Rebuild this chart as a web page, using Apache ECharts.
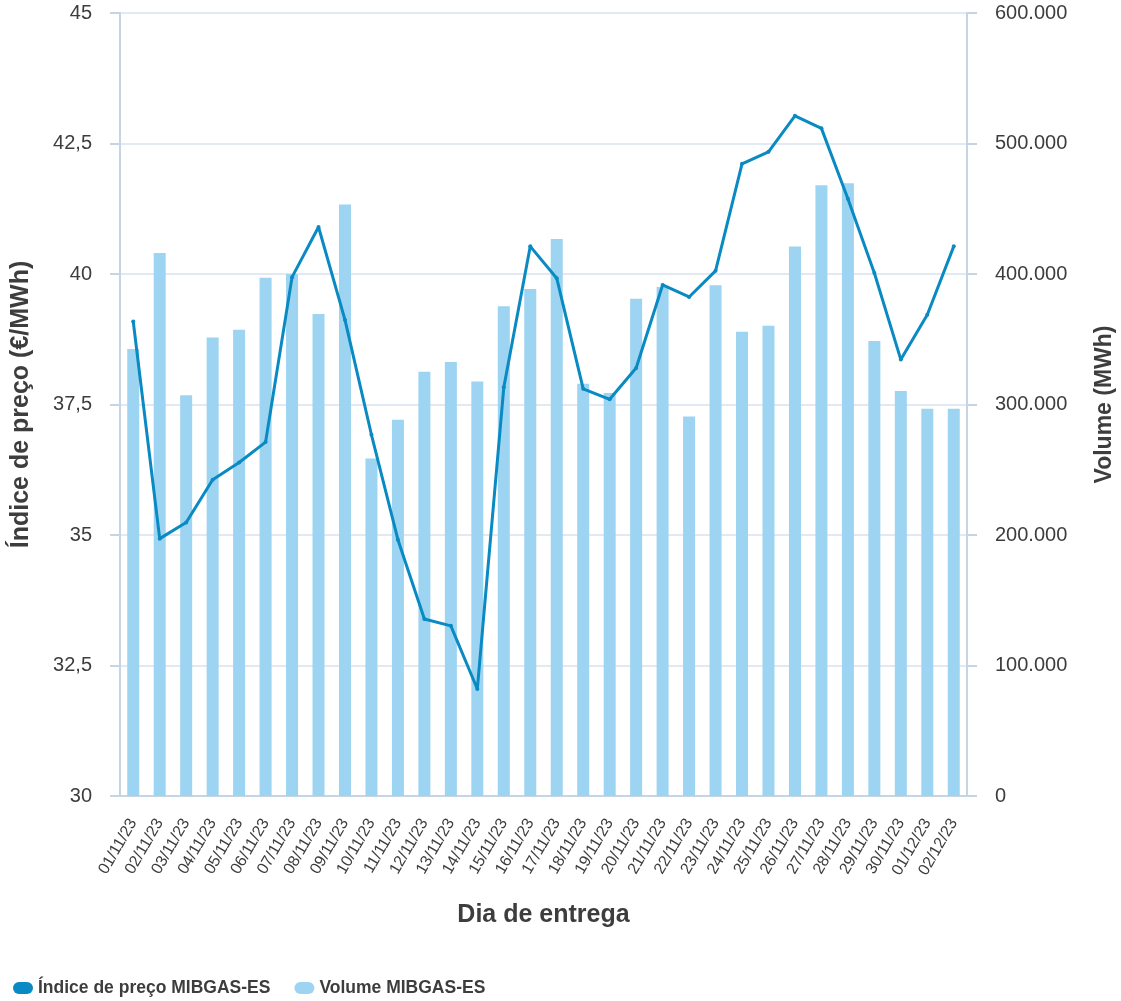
<!DOCTYPE html>
<html>
<head>
<meta charset="utf-8">
<script src="https://cdn.jsdelivr.net/npm/echarts@6/dist/echarts.min.js"></script>
<style>
  html, body { margin: 0; padding: 0; background: #fff; }
  #chart { width: 1121px; height: 1001px; }
</style>
</head>
<body>
<div id="chart"></div>
<script>
// dias de entrega
const categories = [
  '01/11/23', '02/11/23', '03/11/23', '04/11/23', '05/11/23', '06/11/23', '07/11/23', '08/11/23',
  '09/11/23', '10/11/23', '11/11/23', '12/11/23', '13/11/23', '14/11/23', '15/11/23', '16/11/23',
  '17/11/23', '18/11/23', '19/11/23', '20/11/23', '21/11/23', '22/11/23', '23/11/23', '24/11/23',
  '25/11/23', '26/11/23', '27/11/23', '28/11/23', '29/11/23', '30/11/23', '01/12/23', '02/12/23'
]

// Índice de preço MIBGAS-ES (€/MWh)
const priceIndex = [
  39.09, 34.93, 35.24, 36.06, 36.39, 36.78, 39.94, 40.90,
  39.12, 36.92, 34.91, 33.39, 33.26, 32.05, 37.83, 40.53,
  39.92, 37.80, 37.60, 38.20, 39.79, 39.56, 40.06, 42.11,
  42.34, 43.03, 42.79, 41.44, 40.02, 38.36, 39.22, 40.53
]

// Volume MIBGAS-ES (MWh)
const volume = [
  342500, 416100, 307000, 351400, 357300, 397200, 400000, 369400,
  453200, 258700, 288300, 325100, 332600, 317700, 375200, 388500,
  426900, 315900, 308800, 381100, 390100, 290900, 391300, 355800,
  360400, 421000, 468000, 469500, 348700, 310300, 296800, 296800
]

const seriesNames = ['Índice de preço MIBGAS-ES', 'Volume MIBGAS-ES']

const FONT = '"Liberation Sans", Arial, sans-serif'
const TEXT = '#3d3d3d'
const AXIS = '#c6d5e4'
const GRID = '#e2e9f2'
// pill shaped legend marker
const PILL = 'path://M6,0 H14 A6,6 0 0 1 14,12 H6 A6,6 0 0 1 6,0 Z'

function thousands(v) {
  return String(v).replace(/\B(?=(\d{3})+(?!\d))/g, '.')
}

const myChart = echarts.init(document.getElementById('chart'))

myChart.setOption({
  animation: false,
  textStyle: { fontFamily: FONT },
  grid: {
    left: 120,
    right: 154,
    top: 13,
    bottom: 205,
    containLabel: false,
    outerBoundsMode: 'none'
  },
  legend: {
    data: seriesNames,
    left: 13,
    top: 979,
    padding: 0,
    icon: PILL,
    itemWidth: 20,
    itemHeight: 12,
    itemGap: 24,
    textStyle: {
      fontFamily: FONT,
      fontSize: 17.5,
      fontWeight: 'bold',
      color: TEXT
    }
  },
  xAxis: {
    type: 'category',
    data: categories,
    name: 'Dia de entrega',
    nameLocation: 'middle',
    nameGap: 107,
    nameTextStyle: { fontSize: 25, fontWeight: 'bold', color: TEXT, fontFamily: FONT },
    axisLine: { lineStyle: { color: AXIS, width: 2 } },
    axisTick: { alignWithLabel: true, length: 10, lineStyle: { color: AXIS, width: 2 } },
    axisLabel: {
      rotate: 60,
      margin: 24,
      interval: 0,
      fontSize: 16,
      color: TEXT
    }
  },
  yAxis: [
    {
      type: 'value',
      min: 30,
      max: 45,
      interval: 2.5,
      name: 'Índice de preço (€/MWh)',
      nameLocation: 'middle',
      nameGap: 86,
      nameTextStyle: { fontSize: 25, fontWeight: 'bold', color: TEXT, fontFamily: FONT },
      axisLine: { show: true, lineStyle: { color: AXIS, width: 2 } },
      axisTick: { show: true, length: 10, lineStyle: { color: AXIS, width: 2 } },
      axisLabel: {
        margin: 28,
        fontSize: 20,
        color: TEXT,
        formatter: v => String(v).replace('.', ',')
      },
      splitLine: { lineStyle: { color: GRID, width: 2 } }
    },
    {
      type: 'value',
      min: 0,
      max: 600000,
      interval: 100000,
      position: 'right',
      name: 'Volume (MWh)',
      nameLocation: 'middle',
      nameGap: 126,
      nameRotate: 90,
      nameTextStyle: { fontSize: 23, fontWeight: 'bold', color: TEXT, fontFamily: FONT },
      axisLine: { show: true, lineStyle: { color: AXIS, width: 2 } },
      axisTick: { show: true, length: 10, lineStyle: { color: AXIS, width: 2 } },
      axisLabel: {
        margin: 28,
        fontSize: 20,
        color: TEXT,
        formatter: v => thousands(v)
      },
      splitLine: { show: false }
    }
  ],
  series: [
    {
      name: seriesNames[0],
      type: 'line',
      yAxisIndex: 0,
      data: priceIndex,
      z: 3,
      color: '#0a8ac2',
      symbol: 'circle',
      symbolSize: 4,
      lineStyle: { color: '#0a8ac2', width: 3 }
    },
    {
      name: seriesNames[1],
      type: 'bar',
      yAxisIndex: 1,
      data: volume,
      z: 2,
      barWidth: 12,
      color: '#9dd4f1',
      itemStyle: { color: '#9dd4f1' }
    }
  ]
})
</script>
</body>
</html>
